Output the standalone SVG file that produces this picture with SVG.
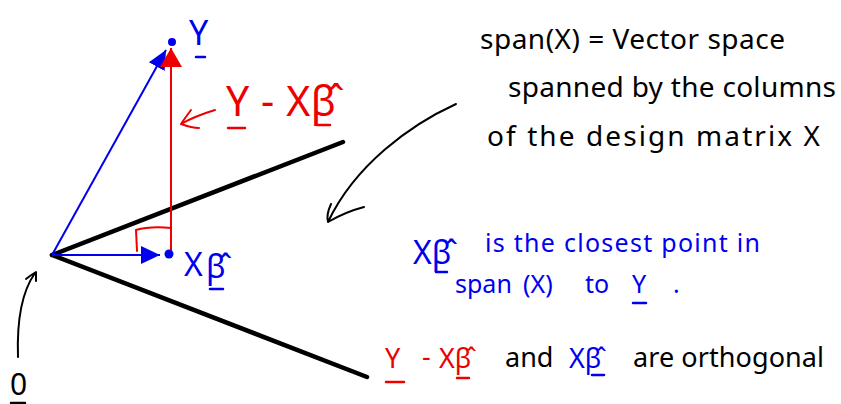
<svg xmlns="http://www.w3.org/2000/svg" width="841" height="404" viewBox="0 0 841 404">
<defs>
<style>
.t{font-family:"Noto Sans","DejaVu Sans",sans-serif;}
.blk{fill:#000;}
.blu{fill:#0000ee;}
.red{fill:#ee0000;}
.ul{stroke-width:2.5;stroke-linecap:round;fill:none;}
.plane{stroke:#000;stroke-width:4.5;stroke-linecap:round;fill:none;}
.pen{stroke-width:2;fill:none;stroke-linecap:round;stroke-linejoin:round;}
</style>
<marker id="hb" markerUnits="userSpaceOnUse" markerWidth="20" markerHeight="20" viewBox="0 0 20 20" refX="19" refY="10" orient="auto">
<path d="M0,1 L19,10 L0,19 Z" fill="#0000ee"/>
</marker>
<marker id="hr" markerUnits="userSpaceOnUse" markerWidth="20" markerHeight="22" viewBox="0 0 20 22" refX="19" refY="11" orient="auto">
<path d="M0,0 L19,11 L0,22 Z" fill="#ee0000"/>
</marker>
</defs>
<rect width="841" height="404" fill="#fff"/>

<g id="plane">
<line class="plane" x1="52" y1="255" x2="343" y2="142"/>
<line class="plane" x1="52" y1="255" x2="367" y2="377"/>
</g>

<g id="connectors">
<line x1="52" y1="255" x2="166" y2="50" stroke="#0000ee" stroke-width="2" marker-end="url(#hb)"/>
<line x1="52" y1="255" x2="160" y2="255" stroke="#0000ee" stroke-width="2" marker-end="url(#hb)"/>
<line x1="171" y1="252" x2="171" y2="48" stroke="#ee0000" stroke-width="2" marker-end="url(#hr)"/>
<path class="pen" stroke="#ee0000" d="M137,251 L136,230 Q150,226 171,228"/>
<path class="pen" stroke="#ee0000" d="M215,110 Q195,116 181,124 M191,110 Q185,118 181,124 Q192,128 199,128"/>
<path class="pen" stroke="#000" d="M456,104 C410,125 355,165 328,222 M331,204 Q326,215 328,222 Q345,212 364,207"/>
<path class="pen" stroke="#000" d="M18,357 Q16,300 35,273 M26,279 Q31,275 36,272 Q36,277 36,281"/>
</g>

<g id="origin">
<text class="t blk" x="10" y="395" font-size="30">0</text>
<line class="ul" stroke="#000" x1="11" y1="403" x2="25" y2="403"/>
</g>

<g id="pointY">
<circle cx="172" cy="42" r="4" fill="#0000ee"/>
<text class="t blu" x="189" y="45" font-size="34">Y</text>
<line class="ul" stroke="#0000ee" x1="196" y1="57" x2="205" y2="57"/>
</g>

<g id="pointXb">
<circle cx="169" cy="254" r="4.5" fill="#0000ee"/>
<text class="t blu" font-size="32"><tspan x="184" y="276">X</tspan><tspan x="206" y="278">β̂</tspan></text>
<line class="ul" stroke="#0000ee" x1="210" y1="289" x2="223" y2="289"/>
</g>

<g id="residual-label">
<text class="t red" x="226" y="116" font-size="41" textLength="110" lengthAdjust="spacing">Y - Xβ̂</text>
<line class="ul" stroke="#ee0000" x1="228" y1="128" x2="245" y2="128"/>
<line class="ul" stroke="#ee0000" x1="317" y1="125" x2="330" y2="125"/>
</g>

<g id="span-note">
<text class="t blk" x="480" y="49" font-size="28" textLength="305" lengthAdjust="spacing">span(X) = Vector space</text>
<text class="t blk" x="508" y="97" font-size="28" textLength="328" lengthAdjust="spacing">spanned by the columns</text>
<text class="t blk" x="487" y="146" font-size="28" textLength="333" lengthAdjust="spacing">of the design matrix X</text>
</g>

<g id="closest-note">
<text class="t blu" font-size="25"><tspan x="413" y="264" font-size="32">Xβ̂</tspan><tspan x="485" y="252" textLength="275" lengthAdjust="spacing">is the closest point in</tspan></text>
<line class="ul" stroke="#0000ee" x1="436" y1="272" x2="447" y2="272"/>
<text class="t blu" font-size="25"><tspan x="455" y="293">span </tspan><tspan x="523" y="293">(X) </tspan><tspan x="585" y="293">to </tspan><tspan x="632" y="293">Y</tspan><tspan x="673" y="293">.</tspan></text>
<line class="ul" stroke="#0000ee" x1="633" y1="303" x2="646" y2="303"/>
</g>

<g id="orthogonal-note">
<text class="t" font-size="27"><tspan class="red" x="385" y="368">Y </tspan><tspan class="red" x="422" y="366">- </tspan><tspan class="red" x="439" y="368">Xβ̂ </tspan><tspan class="blk" x="505" y="367">and </tspan><tspan class="blu" x="569" y="368">Xβ̂ </tspan><tspan class="blk" x="633" y="367" textLength="191" lengthAdjust="spacing">are orthogonal</tspan></text>
<line class="ul" stroke="#ee0000" x1="386" y1="382" x2="404" y2="382"/>
<line class="ul" stroke="#ee0000" x1="457" y1="378" x2="469" y2="378"/>
<line class="ul" stroke="#0000ee" x1="592" y1="375" x2="604" y2="375"/>
</g>
</svg>
